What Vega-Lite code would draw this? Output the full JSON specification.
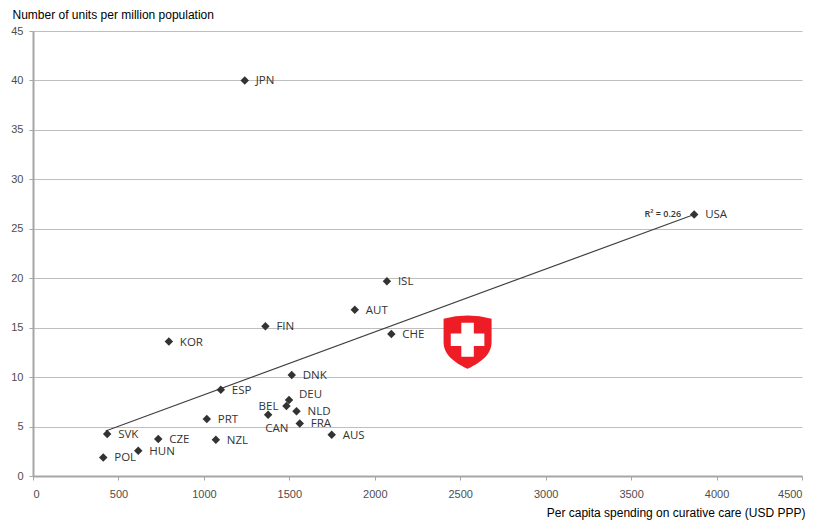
{
  "$schema": "https://vega.github.io/schema/vega-lite/v6.json",
  "width": 769,
  "height": 445,
  "autosize": {"type": "none"},
  "padding": {"left": 33, "top": 31, "right": 13, "bottom": 47},
  "background": "white",
  "config": {"view": {"stroke": null}},
  "datasets": {
    "countries": [
      {"country": "JPN", "spending": 1239, "units": 40.0},
      {"country": "USA", "spending": 3869, "units": 26.45},
      {"country": "ISL", "spending": 2071, "units": 19.7},
      {"country": "AUT", "spending": 1883, "units": 16.8},
      {"country": "FIN", "spending": 1360, "units": 15.14},
      {"country": "CHE", "spending": 2097, "units": 14.37},
      {"country": "KOR", "spending": 795, "units": 13.6},
      {"country": "DNK", "spending": 1514, "units": 10.22},
      {"country": "ESP", "spending": 1099, "units": 8.73},
      {"country": "DEU", "spending": 1498, "units": 7.69},
      {"country": "BEL", "spending": 1483, "units": 7.09},
      {"country": "NLD", "spending": 1542, "units": 6.54},
      {"country": "CAN", "spending": 1376, "units": 6.2},
      {"country": "PRT", "spending": 1017, "units": 5.77},
      {"country": "FRA", "spending": 1561, "units": 5.32},
      {"country": "SVK", "spending": 434, "units": 4.25},
      {"country": "AUS", "spending": 1748, "units": 4.18},
      {"country": "CZE", "spending": 733, "units": 3.74},
      {"country": "NZL", "spending": 1070, "units": 3.67},
      {"country": "HUN", "spending": 616, "units": 2.56},
      {"country": "POL", "spending": 411, "units": 1.88}
    ],
    "trend": [
      {"spending": 425, "units": 4.55},
      {"spending": 3869, "units": 26.45}
    ],
    "r2": [
      {"spending": 3869, "units": 26.45, "label": "R² = 0.26"}
    ],
    "emblem": [
      {"name": "Switzerland", "spending": 2543, "units": 13.77}
    ]
  },
  "encoding": {
    "x": {
      "field": "spending",
      "type": "quantitative",
      "scale": {"domain": [0, 4500], "nice": false, "zero": false},
      "axis": {
        "values": [0, 500, 1000, 1500, 2000, 2500, 3000, 3500, 4000, 4500],
        "format": "d",
        "grid": false,
        "domainColor": "#a6a6a6",
        "domainWidth": 2,
        "tickColor": "#a6a6a6",
        "tickSize": 4,
        "labelFont": "Liberation Sans",
        "labelFontSize": 11,
        "labelColor": "#4d4d4d",
        "labelPadding": 8,
        "title": "Per capita spending on curative care (USD PPP)",
        "titleFont": "Liberation Sans",
        "titleFontSize": 12,
        "titleFontWeight": "normal",
        "titleColor": "#000000",
        "titleAlign": "right",
        "titleBaseline": "middle",
        "titleX": 772,
        "titleY": 36
      }
    },
    "y": {
      "field": "units",
      "type": "quantitative",
      "scale": {"domain": [0, 45], "nice": false, "zero": false},
      "axis": {
        "values": [0, 5, 10, 15, 20, 25, 30, 35, 40, 45],
        "grid": true,
        "gridColor": "#bfbfbf",
        "gridWidth": 1,
        "domainColor": "#a6a6a6",
        "domainWidth": 2,
        "tickColor": "#a6a6a6",
        "tickSize": 4,
        "labelFont": "Liberation Sans",
        "labelFontSize": 11,
        "labelColor": "#4d4d4d",
        "labelPadding": 6,
        "title": "Number of units per million population",
        "titleFont": "Liberation Sans",
        "titleFontSize": 12,
        "titleFontWeight": "normal",
        "titleColor": "#000000",
        "titleAngle": 0,
        "titleAlign": "left",
        "titleBaseline": "middle",
        "titleX": -21,
        "titleY": -17
      }
    }
  },
  "layer": [
    {
      "data": {"name": "trend"},
      "mark": {"type": "line", "color": "#404040", "strokeWidth": 1.2},
      "encoding": {}
    },
    {
      "data": {"name": "countries"},
      "mark": {"type": "point", "shape": "diamond", "size": 72, "filled": true, "color": "#333333", "opacity": 1}
    },
    {
      "data": {"name": "countries"},
      "transform": [{"filter": "datum.country !== 'BEL' && datum.country !== 'CAN' && datum.country !== 'DEU'"}],
      "mark": {"type": "text", "align": "left", "baseline": "middle", "dx": 11, "dy": 1, "font": "Open Sans", "fontSize": 11.5, "color": "#333333"},
      "encoding": {"text": {"field": "country"}}
    },
    {
      "data": {"name": "countries"},
      "transform": [{"filter": "datum.country === 'BEL'"}],
      "mark": {"type": "text", "align": "right", "baseline": "middle", "dx": -8, "dy": 1.5, "font": "Open Sans", "fontSize": 11.5, "color": "#333333"},
      "encoding": {"text": {"field": "country"}}
    },
    {
      "data": {"name": "countries"},
      "transform": [{"filter": "datum.country === 'CAN'"}],
      "mark": {"type": "text", "align": "left", "baseline": "middle", "dx": -3, "dy": 14, "font": "Open Sans", "fontSize": 11.5, "color": "#333333"},
      "encoding": {"text": {"field": "country"}}
    },
    {
      "data": {"name": "countries"},
      "transform": [{"filter": "datum.country === 'DEU'"}],
      "mark": {"type": "text", "align": "left", "baseline": "middle", "dx": 10, "dy": -5, "font": "Open Sans", "fontSize": 11.5, "color": "#333333"},
      "encoding": {"text": {"field": "country"}}
    },
    {
      "data": {"name": "r2"},
      "mark": {"type": "text", "align": "right", "baseline": "middle", "dx": -13, "dy": 0, "font": "Open Sans", "fontSize": 9, "fontWeight": 600, "color": "#333333"},
      "encoding": {"text": {"field": "label"}}
    },
    {
      "data": {"name": "emblem"},
      "mark": {"type": "point", "shape": "M -1 -0.875 Q 0 -1.15 1 -0.875 L 1 0.1 C 1 0.7 0.4 1.0 0 1.21 C -0.4 1.0 -1 0.7 -1 0.1 Z", "size": 2304, "filled": true, "color": "#ee1c25", "opacity": 1, "strokeWidth": 0}
    },
    {
      "data": {"name": "emblem"},
      "mark": {"type": "point", "shape": "M -0.26 -0.71 L 0.26 -0.71 L 0.26 -0.26 L 0.7 -0.26 L 0.7 0.26 L 0.26 0.26 L 0.26 0.71 L -0.26 0.71 L -0.26 0.26 L -0.7 0.26 L -0.7 -0.26 L -0.26 -0.26 Z", "size": 2304, "filled": true, "color": "#ffffff", "opacity": 1, "strokeWidth": 0}
    }
  ]
}
